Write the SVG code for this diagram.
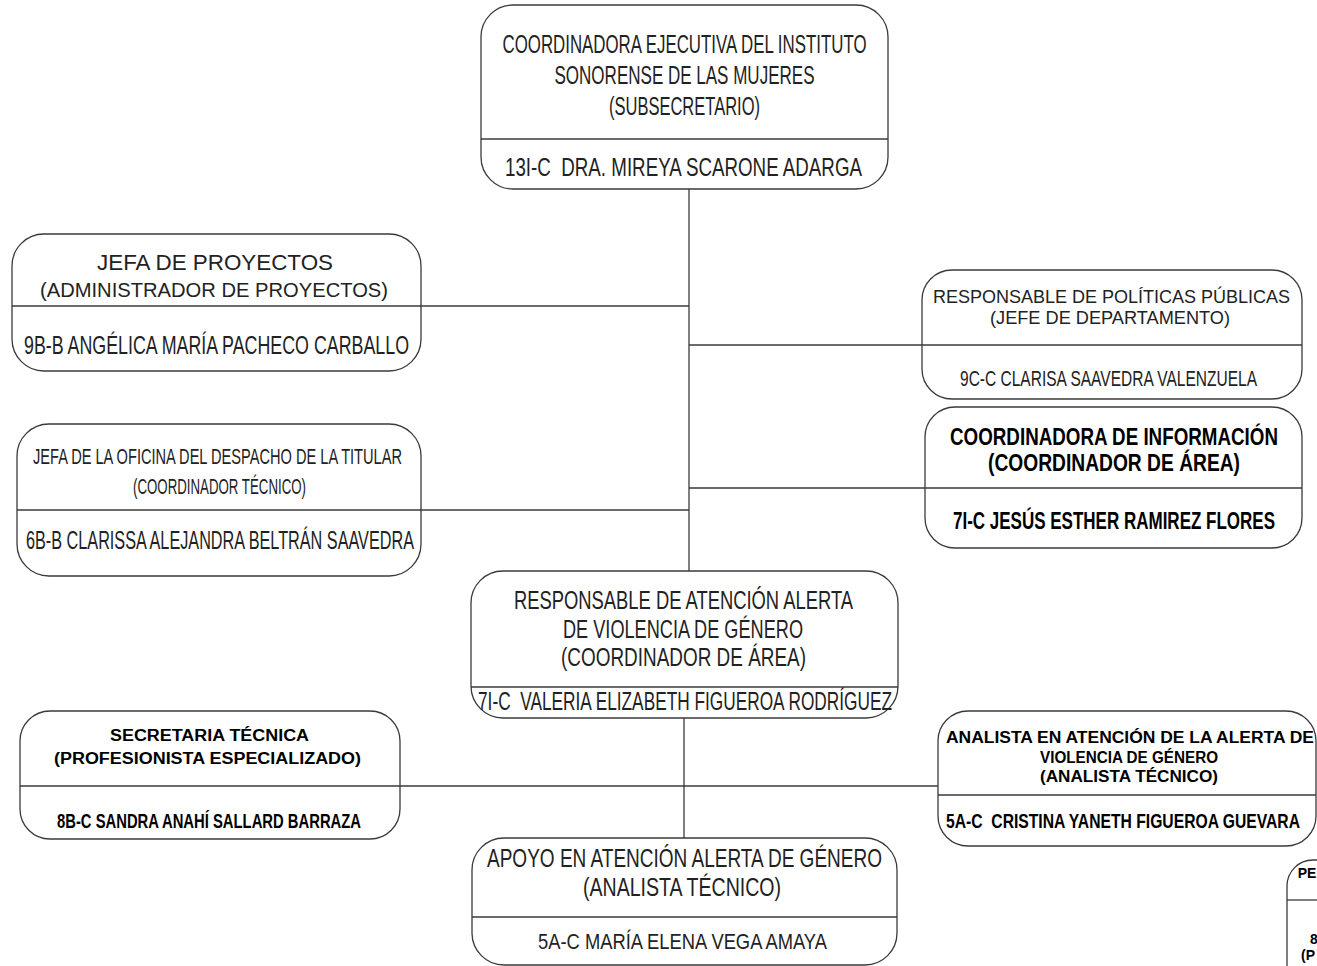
<svg xmlns="http://www.w3.org/2000/svg" width="1317" height="966" viewBox="0 0 1317 966">
<style>
.box{fill:#fff;stroke:#3a3a3a;stroke-width:1.3}
.div{stroke:#3a3a3a;stroke-width:1.3}
.con{stroke:#3a3a3a;stroke-width:1.3;fill:none}
text{font-family:"Liberation Sans",Arial,sans-serif;fill:#222;text-anchor:middle;white-space:pre}
.n{font-size:26px}
.b{font-weight:bold;fill:#000}
</style>
<rect width="1317" height="966" fill="#fff"/>
<g id="connectors">
<line class="con" x1="689" y1="189" x2="689" y2="571"/>
<line class="con" x1="421" y1="306" x2="689" y2="306"/>
<line class="con" x1="689" y1="345" x2="922" y2="345"/>
<line class="con" x1="689" y1="488" x2="925" y2="488"/>
<line class="con" x1="421" y1="510" x2="689" y2="510"/>
<line class="con" x1="684" y1="718" x2="684" y2="838"/>
<line class="con" x1="400" y1="786" x2="938" y2="786"/>
</g>
<g id="n-coordinadora">
<rect class="box" x="481" y="5" width="407" height="184" rx="32"/>
<line class="div" x1="481" y1="139" x2="888" y2="139"/>
<text class="n" x="684.5" y="53" textLength="364" lengthAdjust="spacingAndGlyphs">COORDINADORA EJECUTIVA DEL INSTITUTO</text>
<text class="n" x="684.5" y="84" textLength="260" lengthAdjust="spacingAndGlyphs">SONORENSE DE LAS MUJERES</text>
<text class="n" x="684.5" y="115" textLength="151" lengthAdjust="spacingAndGlyphs">(SUBSECRETARIO)</text>
<text class="n" x="683.5" y="176" textLength="357" lengthAdjust="spacingAndGlyphs">13I-C  DRA. MIREYA SCARONE ADARGA</text>
</g>
<g id="n-proyectos">
<rect class="box" x="12" y="234" width="409" height="137" rx="32"/>
<line class="div" x1="12" y1="306" x2="421" y2="306"/>
<text x="215" y="270" font-size="22" textLength="236" lengthAdjust="spacingAndGlyphs">JEFA DE PROYECTOS</text>
<text x="214" y="297" font-size="20" textLength="348" lengthAdjust="spacingAndGlyphs">(ADMINISTRADOR DE PROYECTOS)</text>
<text class="n" x="216.5" y="354" font-size="25" textLength="385" lengthAdjust="spacingAndGlyphs">9B-B ANGÉLICA MARÍA PACHECO CARBALLO</text>
</g>
<g id="n-politicas">
<rect class="box" x="922" y="270" width="380" height="129" rx="30"/>
<line class="div" x1="922" y1="345" x2="1302" y2="345"/>
<text x="1111.5" y="303" font-size="18" textLength="357" lengthAdjust="spacingAndGlyphs">RESPONSABLE DE POLÍTICAS PÚBLICAS</text>
<text x="1110" y="324" font-size="18" textLength="240" lengthAdjust="spacingAndGlyphs">(JEFE DE DEPARTAMENTO)</text>
<text x="1108.5" y="386" font-size="22" textLength="297" lengthAdjust="spacingAndGlyphs">9C-C CLARISA SAAVEDRA VALENZUELA</text>
</g>
<g id="n-informacion">
<rect class="box" x="925" y="407" width="377" height="141" rx="30"/>
<line class="div" x1="925" y1="488" x2="1302" y2="488"/>
<text class="b" x="1114" y="445" font-size="23" textLength="328" lengthAdjust="spacingAndGlyphs">COORDINADORA DE INFORMACIÓN</text>
<text class="b" x="1114" y="471" font-size="23" textLength="252" lengthAdjust="spacingAndGlyphs">(COORDINADOR DE ÁREA)</text>
<text class="b" x="1114" y="529" font-size="24" textLength="322" lengthAdjust="spacingAndGlyphs">7I-C JESÚS ESTHER RAMIREZ FLORES</text>
</g>
<g id="n-oficina">
<rect class="box" x="17" y="424" width="404" height="152" rx="32"/>
<line class="div" x1="17" y1="510" x2="421" y2="510"/>
<text x="217.5" y="464" font-size="22" textLength="369" lengthAdjust="spacingAndGlyphs">JEFA DE LA OFICINA DEL DESPACHO DE LA TITULAR</text>
<text x="219.5" y="494" font-size="22" textLength="173" lengthAdjust="spacingAndGlyphs">(COORDINADOR TÉCNICO)</text>
<text class="n" x="220" y="549" textLength="388" lengthAdjust="spacingAndGlyphs">6B-B CLARISSA ALEJANDRA BELTRÁN SAAVEDRA</text>
</g>
<g id="n-alerta">
<rect class="box" x="471" y="571" width="427" height="147" rx="32"/>
<line class="div" x1="471" y1="687" x2="898" y2="687"/>
<text class="n" x="683.5" y="609" textLength="339" lengthAdjust="spacingAndGlyphs">RESPONSABLE DE ATENCIÓN ALERTA</text>
<text class="n" x="683" y="638" textLength="240" lengthAdjust="spacingAndGlyphs">DE VIOLENCIA DE GÉNERO</text>
<text class="n" x="683.5" y="666" textLength="245" lengthAdjust="spacingAndGlyphs">(COORDINADOR DE ÁREA)</text>
<text class="n" x="685" y="710" textLength="414" lengthAdjust="spacingAndGlyphs">7I-C  VALERIA ELIZABETH FIGUEROA RODRÍGUEZ</text>
</g>
<g id="n-secretaria">
<rect class="box" x="20" y="711" width="380" height="128" rx="30"/>
<line class="div" x1="20" y1="786" x2="400" y2="786"/>
<text class="b" x="209.5" y="741" font-size="16" textLength="199" lengthAdjust="spacingAndGlyphs">SECRETARIA TÉCNICA</text>
<text class="b" x="207.5" y="764" font-size="16" textLength="307" lengthAdjust="spacingAndGlyphs">(PROFESIONISTA ESPECIALIZADO)</text>
<text class="b" x="209" y="828" font-size="21" textLength="304" lengthAdjust="spacingAndGlyphs">8B-C SANDRA ANAHÍ SALLARD BARRAZA</text>
</g>
<g id="n-analista">
<rect class="box" x="938" y="711" width="378" height="135" rx="30"/>
<line class="div" x1="938" y1="795" x2="1316" y2="795"/>
<text class="b" x="1130" y="743" font-size="16" textLength="368" lengthAdjust="spacingAndGlyphs">ANALISTA EN ATENCIÓN DE LA ALERTA DE</text>
<text class="b" x="1129" y="763" font-size="16" textLength="178" lengthAdjust="spacingAndGlyphs">VIOLENCIA DE GÉNERO</text>
<text class="b" x="1129" y="782" font-size="16" textLength="178" lengthAdjust="spacingAndGlyphs">(ANALISTA TÉCNICO)</text>
<text class="b" x="1123" y="828" font-size="21" textLength="354" lengthAdjust="spacingAndGlyphs">5A-C  CRISTINA YANETH FIGUEROA GUEVARA</text>
</g>
<g id="n-apoyo">
<rect class="box" x="472" y="838" width="425" height="127" rx="32"/>
<line class="div" x1="472" y1="917" x2="897" y2="917"/>
<text class="n" x="684.5" y="867" textLength="395" lengthAdjust="spacingAndGlyphs">APOYO EN ATENCIÓN ALERTA DE GÉNERO</text>
<text class="n" x="682" y="896" textLength="198" lengthAdjust="spacingAndGlyphs">(ANALISTA TÉCNICO)</text>
<text x="682.5" y="949" font-size="22" textLength="289" lengthAdjust="spacingAndGlyphs">5A-C MARÍA ELENA VEGA AMAYA</text>
</g>
<g id="n-partial">
<rect class="box" x="1287" y="860" width="120" height="150" rx="26"/>
<line class="div" x1="1287" y1="900" x2="1317" y2="900"/>
<text class="b" x="1307" y="878" font-size="14">PE</text>
<text class="b" x="1314" y="944" font-size="14">8</text>
<text class="b" x="1308" y="960" font-size="14">(P</text>
</g>
</svg>
